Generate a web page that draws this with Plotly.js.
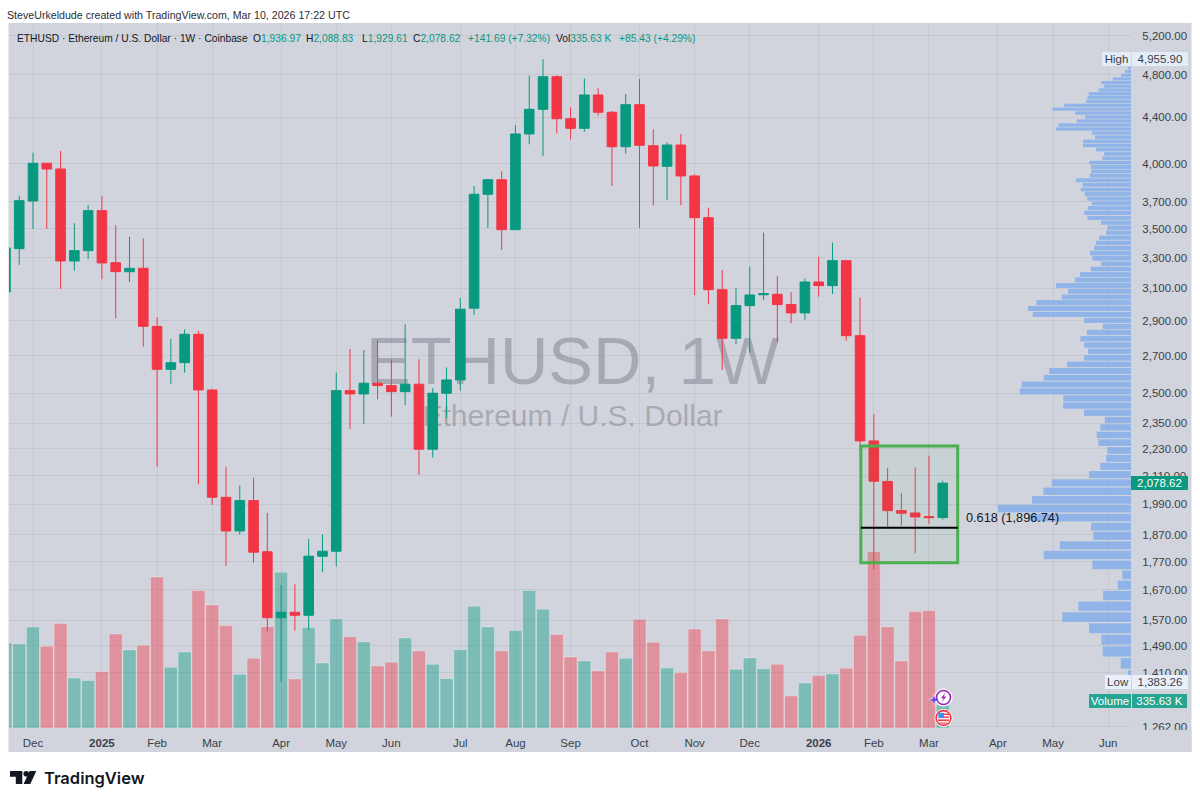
<!DOCTYPE html>
<html>
<head>
<meta charset="utf-8">
<script src="https://cdn.plot.ly/plotly-3.0.1.min.js"></script>
<style>html,body{margin:0;padding:0;background:#fff}#chart{width:1200px;height:803px}</style>
</head>
<body>
<div id="chart"></div>
<script>
const weeks = ['2024-11-18','2024-11-25','2024-12-02','2024-12-09','2024-12-16','2024-12-23','2024-12-30','2025-01-06','2025-01-13','2025-01-20','2025-01-27','2025-02-03','2025-02-10','2025-02-17','2025-02-24','2025-03-03','2025-03-10','2025-03-17','2025-03-24','2025-03-31','2025-04-07','2025-04-14','2025-04-21','2025-04-28','2025-05-05','2025-05-12','2025-05-19','2025-05-26','2025-06-02','2025-06-09','2025-06-16','2025-06-23','2025-06-30','2025-07-07','2025-07-14','2025-07-21','2025-07-28','2025-08-04','2025-08-11','2025-08-18','2025-08-25','2025-09-01','2025-09-08','2025-09-15','2025-09-22','2025-09-29','2025-10-06','2025-10-13','2025-10-20','2025-10-27','2025-11-03','2025-11-10','2025-11-17','2025-11-24','2025-12-01','2025-12-08','2025-12-15','2025-12-22','2025-12-29','2026-01-05','2026-01-12','2026-01-19','2026-01-26','2026-02-02','2026-02-09','2026-02-16','2026-02-23','2026-03-02','2026-03-09'];
const opens = [3075.8,3361,3706,4003.8,3957,3277,3347,3633,3266,3206,3228.5,2866,2624.5,2660.8,2820,2516,2019.3,1884.8,2005.6,1806,1577.8,1595.6,1585.7,1789.6,1808,2512.6,2495.8,2551,2538.7,2507.5,2545.9,2228.4,2499.4,2568.3,2975,3757.5,3871,3494.5,4251.6,4471.6,4780.8,4386.5,4301.2,4605,4444.8,4141.9,4514.4,4150,3979,4156.5,3901,3581.4,3090.2,2797.2,2990.9,3058,3061,2997,2946.4,3139.3,3115.8,3279.4,2812.2,2266.6,2086,1964.9,1955.5,1941,1936.97];
const highs = [3450,3746.4,4091.6,4006,4105.9,3540.5,3673.6,3744,3525.9,3444,3433.4,2920.6,2793,2849.3,2839.5,2521.4,2149.9,2068,2101.9,1955.7,1687.3,1689.8,1853.6,1871.9,2606.9,2736.3,2731.1,2787.6,2679,2878.4,2679,2525,2635.5,3038,3821.6,3877,3938.7,4330.6,4790.7,4955.9,4797.6,4490.2,4764.9,4668.3,4456.6,4614.5,4758,4292.3,4179.7,4251.6,3914.7,3655,3217.5,3099.2,3239.2,3472.9,3177.9,3073.9,3162.7,3306.5,3402.6,3282,3039.9,2395.6,2145.4,2036.1,2147.2,2199.4,2088.83];
const lows = [3030,3250.6,3499.5,3499.5,3094.7,3212.9,3290.8,3156.9,2913.8,3139.3,2749.4,2149.9,2547.5,2606.9,2074,1988,1754.5,1870.4,1765.3,1534.6,1383.26,1536.6,1538.8,1731.8,1752,2323,2347,2468.8,2382.4,2440,2113.8,2190.5,2374.5,2512.6,2934.4,3504.8,3352.1,3492.3,4162.5,4063.9,4257.4,4204.6,4271.4,4413.8,3821.6,4083.2,3508.4,3673.6,3713.7,3676,3055,2999.5,2621.5,2763.1,2716,3025.7,2772.2,2884.4,2904.2,3046.2,3063.2,2783.6,2217.4,1742.6,1895.4,1905.6,1800.7,1912.2,1929.61];
const closes = [3365.9,3708.4,4003.8,3957,3277.4,3347.3,3633.2,3264,3206.3,3228.5,2866.4,2624.5,2660.8,2820.4,2516.2,2019.3,1884.8,2005.6,1804.4,1577.8,1595.6,1585.7,1789.6,1808,2512.6,2495.8,2551.1,2538.7,2507.5,2545.9,2228.4,2499.4,2568.3,2969,3757.5,3871,3494.5,4251.6,4471.6,4780.8,4386.5,4301.2,4605,4444.8,4141.9,4514.4,4153.9,3981.7,4156.5,3901,3581.4,3090.2,2797.2,2990.9,3056.9,3065,2997,2946.4,3139.3,3115.8,3279.4,2812.2,2266.6,2086.9,1964.9,1954.5,1939.7,1937,2078.62];
const volumesK = [1242,1227,1476,1193,1524,730,692,823,1373,1140,1208,2206,886,1110,2006,1797,1495,784,1018,1480,2274,716,1466,950,1592,1334,1256,906,959,1315,1125,930,721,1144,1778,1476,1125,1422,2006,1734,1364,1037,979,833,1110,1018,1588,1252,877,808,1446,1125,1592,857,1023,867,930,468,657,765,789,872,1354,2574,1476,979,1700,1714,335.63];

const profilePrices = [1401.1,1436.9,1472.6,1508.3,1544.0,1579.8,1615.5,1651.2,1687.0,1722.7,1758.4,1794.1,1829.9,1865.6,1901.3,1937.1,1972.8,2008.5,2044.2,2080.0,2115.7,2151.4,2187.2,2222.9,2258.6,2294.4,2330.1,2365.8,2401.5,2437.3,2473.0,2508.7,2544.5,2580.2,2615.9,2651.6,2687.4,2723.1,2758.8,2794.6,2830.3,2866.0,2901.7,2937.5,2973.2,3008.9,3044.7,3080.4,3116.1,3151.9,3187.6,3223.3,3259.0,3294.8,3330.5,3366.2,3402.0,3437.7,3473.4,3509.1,3544.9,3580.6,3616.3,3652.1,3687.8,3723.5,3759.2,3795.0,3830.7,3866.4,3902.2,3937.9,3973.6,4009.3,4045.1,4080.8,4116.5,4152.3,4188.0,4223.7,4259.5,4295.2,4330.9,4366.6,4402.4,4438.1,4473.8,4509.6,4545.3,4581.0,4616.8,4652.5,4688.2,4723.9,4759.7,4795.4,4831.1,4866.9,4902.6,4938.3];
const profileVolumes = [3,10.3,28.3,29.7,42,68.7,52.7,28,13.3,8.7,38.7,87.3,71.3,37.7,40,102.7,133,99,87.7,79.3,42,30.7,25,23.7,32.7,34.3,30.7,26.3,47,68,67.7,111.3,109.3,87.3,82,64,47,43,47,50.7,44.3,28.3,47,98.3,103,94.7,69.3,63,75,56,51,40.3,30,38.7,41,37,35,32,25,23.7,30,43.7,46.7,43,39.3,44,46.3,50.3,48.3,55,41.3,40,40,41.7,28.7,27,35,48,48,36,39.3,75,72.7,54.3,46,56,78.7,67,45,43.7,42.3,32.3,27.3,30,18.3,10,6,2.7,1.5,1];
const profileBinWidth = 31.5;

const priceTicks = [5200,4800,4400,4000,3700,3500,3300,3100,2900,2700,2500,2350,2230,2110,1990,1870,1770,1670,1570,1490,1410,1262];
const priceTickLabels = ['5,200.00','4,800.00','4,400.00','4,000.00','3,700.00','3,500.00','3,300.00','3,100.00','2,900.00','2,700.00','2,500.00','2,350.00','2,230.00','2,110.00','1,990.00','1,870.00','1,770.00','1,670.00','1,570.00','1,490.00','1,410.00','1,262.00'];
const timeTicks = ['2024-12-02','2025-01-06','2025-02-03','2025-03-03','2025-04-07','2025-05-05','2025-06-02','2025-07-07','2025-08-04','2025-09-01','2025-10-06','2025-11-03','2025-12-01','2026-01-05','2026-02-02','2026-03-02','2026-04-06','2026-05-04','2026-06-01'];
const timeTickLabels = ['Dec','<b>2025</b>','Feb','Mar','Apr','May','Jun','Jul','Aug','Sep','Oct','Nov','Dec','<b>2026</b>','Feb','Mar','Apr','May','Jun'];

const fibLevel = 1896.74, boxTop = 2243.5, boxBottom = 1766;
const boxStart = '2026-01-26 10:00', boxEnd = '2026-03-16 14:00';

const UP = '#089981', DOWN = '#f23645', BG = '#d1d4dc', INK = '#3b3f4b';
const FONT = '"Liberation Sans", Arial, sans-serif';
const BRAND = 'Inter, "Liberation Sans", sans-serif';
const L = 9, T = 23, W = 1122, H = 705;
const fx = p => (p - L) / W, fy = p => (T + H - p) / H;
const priceRange = [Math.log10(1258.6), Math.log10(5337)];
const timeRange = ['2024-11-19 19:26', '2026-06-12 14:24'];

const watermark = {
  type: 'scatter', mode: 'text', x: ['2025-09-02', '2025-09-02'], y: [2637, 2371],
  text: ['ETHUSD, 1W', 'Ethereum / U.S. Dollar'], textposition: 'middle center',
  textfont: { family: FONT, size: [67, 30], color: 'rgba(120,123,134,0.48)' },
  hoverinfo: 'skip', showlegend: false, xaxis: 'x', yaxis: 'y'
};
const volume = {
  type: 'bar', x: weeks, y: volumesK, width: 570000000,
  marker: { color: closes.map((c, i) => c >= opens[i] ? 'rgba(8,153,129,0.42)' : 'rgba(242,54,69,0.42)'),
            line: { color: 'rgba(255,255,255,0.28)', width: 1 } },
  hoverinfo: 'skip', showlegend: false, xaxis: 'x', yaxis: 'y2'
};
const candles = {
  type: 'candlestick', x: weeks, open: opens, high: highs, low: lows, close: closes,
  increasing: { line: { color: UP, width: 1 }, fillcolor: UP },
  decreasing: { line: { color: DOWN, width: 1 }, fillcolor: DOWN },
  whiskerwidth: 0, hoverinfo: 'skip', showlegend: false, xaxis: 'x', yaxis: 'y3'
};
const profile = {
  type: 'bar', orientation: 'h', y: profilePrices, x: profileVolumes, width: profileBinWidth,
  marker: { color: 'rgba(125,170,236,0.78)', line: { color: 'rgba(255,255,255,0.15)', width: 0.5 } },
  hoverinfo: 'skip', showlegend: false, xaxis: 'x2', yaxis: 'y3'
};

const rect = (x0, y0, x1, y1, fill, layer) => ({ type: 'rect', xref: 'paper', yref: 'paper', x0: fx(x0), x1: fx(x1), y0: fy(y0), y1: fy(y1), fillcolor: fill, line: { width: 0 }, layer: layer || 'above' });
const circle = (cx, cy, r, fill, stroke, lw) => ({ type: 'circle', xref: 'paper', yref: 'paper', x0: fx(cx - r), x1: fx(cx + r), y0: fy(cy + r), y1: fy(cy - r), fillcolor: fill, line: { color: stroke, width: lw }, layer: 'above' });
const poly = (pts, fill) => ({ type: 'path', xref: 'paper', yref: 'paper', path: 'M' + pts.map(p => fx(p[0]) + ',' + fy(p[1])).join(' L') + ' Z', fillcolor: fill, line: { width: 0 }, layer: 'above' });

const shapes = [
  rect(8.5, 23, 1191.5, 752, BG, 'below'),
  rect(1131, 730, 1191.5, 752, BG),
  { type: 'rect', xref: 'x', yref: 'y', x0: boxStart, x1: boxEnd, y0: boxBottom, y1: boxTop, fillcolor: 'rgba(76,175,80,0.06)', line: { color: '#4caf50', width: 3 }, layer: 'above' },
  { type: 'line', xref: 'x', yref: 'y', x0: boxStart, x1: boxEnd, y0: fibLevel, y1: fibLevel, line: { color: '#000000', width: 2 }, layer: 'above' },
  poly([[934, 693.5], [935.4, 698], [940, 699.5], [935.4, 701], [934, 705.5], [932.6, 701], [928, 699.5], [932.6, 698]], '#ffffff'),
  circle(943.5, 697.5, 8.6, '#ffffff', '#ffffff', 1),
  circle(943.5, 697.5, 7, '#ffffff', '#9c27b0', 1.6),
  poly([[945.5, 692.5], [941, 698.2], [943.6, 698.2], [941.5, 702.5], [946.4, 696.6], [943.8, 696.6]], '#9c27b0'),
  poly([[934, 695], [935.1, 698.6], [938.8, 699.8], [935.1, 701], [934, 704.6], [932.9, 701], [929.2, 699.8], [932.9, 698.6]], '#5b4bf0'),
  circle(943.5, 718, 8.6, '#ffffff', '#ffffff', 1),
  circle(943.5, 718, 7.4, '#ffffff', '#f23645', 1.6),
  rect(938, 719.4, 949, 721, '#f23645'),
  rect(939.5, 722.5, 947.5, 723.6, '#f23645'),
  rect(944, 713.6, 949, 715, '#f23645'),
  rect(944, 716.4, 949, 717.8, '#f23645'),
  rect(938.4, 712.8, 944, 718.2, '#3d8fe8'),
  poly([[10, 771], [22.3, 771], [22.3, 784], [15.8, 784], [15.8, 776.7], [10, 776.7]], '#131722'),
  circle(26.2, 773.8, 2.8, '#131722', '#131722', 0),
  poly([[29.6, 771], [36.3, 771], [30.3, 784], [23.6, 784]], '#131722')
];

const tag = (text, x0, x1, yc, bg, color) => ({
  text, xref: 'paper', yref: 'paper', x: fx((x0 + x1) / 2), y: fy(yc), xanchor: 'center', yanchor: 'middle',
  width: x1 - x0, height: 14, bgcolor: bg, borderpad: 0, borderwidth: 0, showarrow: false, align: 'center',
  font: { family: FONT, size: 11.5, color }
});
const label = (text, x, y, size, color, extra) => Object.assign({
  text, xref: 'paper', yref: 'paper', x: fx(x), y: fy(y), xanchor: 'left', yanchor: 'middle',
  showarrow: false, borderpad: 0, align: 'left', font: { family: FONT, size, color }
}, extra || {});
const g = s => '<span style="color:#089981">' + s + '</span>';
const HDR = 10.25;

const annotations = [
  label('SteveUrkeldude created with TradingView.com, Mar 10, 2026 17:22 UTC', 6, 15, 10.65, '#2a2e39'),
  label('ETHUSD · Ethereum / U.S. Dollar · 1W · Coinbase', 16, 38, HDR, '#131722'),
  label('O' + g('1,936.97'), 251.6, 38, HDR, '#131722'),
  label('H' + g('2,088.83'), 305, 38, HDR, '#131722'),
  label('L' + g('1,929.61'), 361, 38, HDR, '#131722'),
  label('C' + g('2,078.62'), 412, 38, HDR, '#131722'),
  label(g('+141.69 (+7.32%)'), 467, 38, HDR, '#131722'),
  label('Vol' + g('335.63 K'), 555, 38, HDR, '#131722'),
  label(g('+85.43 (+4.29%)'), 618, 38, HDR, '#131722'),
  label('0.618 (1,896.74)', 964.5, 517.5, 12.7, '#131722'),
  label('TradingView', 43, 778, 16.5, '#131722', { font: { family: BRAND, size: 16.5, color: '#131722', weight: 600 } }),
  tag('High', 1102, 1131, 59, '#e4ecf8', INK),
  tag('4,955.90', 1132, 1188, 59, '#e4ecf8', INK),
  tag('2,078.62', 1131, 1188, 483, '#0b9a80', '#ffffff'),
  tag('Low', 1105, 1131, 682, '#e9f0fa', INK),
  tag('1,383.26', 1132, 1188, 682, '#e9f0fa', INK),
  tag('Volume', 1089, 1131, 701, '#26a692', '#ffffff'),
  tag('335.63 K', 1132, 1187, 701, '#26a692', '#ffffff')
];

const layout = {
  width: 1200, height: 803, autosize: false,
  margin: { l: L, r: 1200 - L - W, t: T, b: 803 - T - H, pad: 0 },
  paper_bgcolor: '#ffffff', plot_bgcolor: BG,
  showlegend: false, dragmode: false, boxgap: 0.18, boxgroupgap: 0.15, bargap: 0.06,
  font: { family: FONT, size: 11.5, color: INK },
  xaxis: {
    type: 'date', range: timeRange, tickmode: 'array', tickvals: timeTicks, ticktext: timeTickLabels,
    showgrid: true, gridcolor: 'rgba(130,135,150,0.15)', gridwidth: 1, zeroline: false, showline: false,
    ticks: 'outside', ticklen: 4, tickcolor: 'rgba(0,0,0,0)', tickfont: { family: FONT, size: 11.5, color: INK },
    rangeslider: { visible: false }, fixedrange: true
  },
  yaxis: {
    type: 'log', range: priceRange, side: 'right', tickmode: 'array', tickvals: priceTicks, ticktext: priceTickLabels,
    showgrid: true, gridcolor: 'rgba(130,135,150,0.17)', gridwidth: 1, zeroline: false, showline: false,
    ticks: 'outside', ticklen: 8, tickcolor: 'rgba(0,0,0,0)', tickfont: { family: FONT, size: 11.5, color: INK }, fixedrange: true
  },
  yaxis2: { overlaying: 'y', type: 'linear', range: [0, 10293], visible: false, fixedrange: true },
  yaxis3: { overlaying: 'y', type: 'log', range: priceRange, visible: false, fixedrange: true },
  xaxis2: { overlaying: 'x', type: 'linear', range: [W, 0], visible: false, fixedrange: true },
  shapes, annotations
};

Plotly.newPlot('chart', [watermark, volume, candles, profile], layout, { displayModeBar: false, staticPlot: true });
</script>
</body>
</html>
